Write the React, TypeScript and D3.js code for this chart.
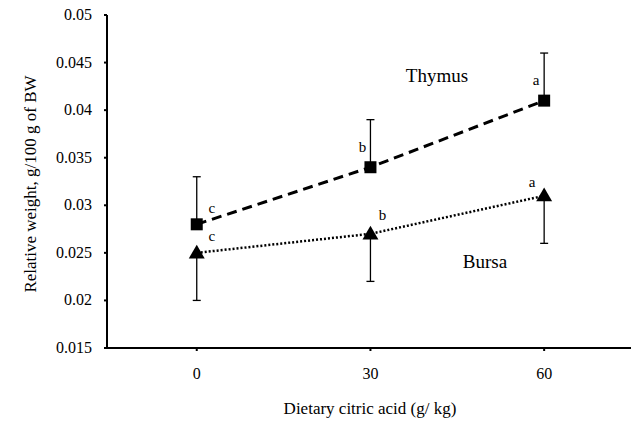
import React from 'react';
import * as d3 from 'd3';

const doses = [0, 30, 60];
const thymus = [0.028, 0.034, 0.041];
const thymusErr = [0.005, 0.005, 0.005];
const thymusLetters = ['c', 'b', 'a'];
const bursa = [0.025, 0.027, 0.031];
const bursaErr = [0.005, 0.005, 0.005];
const bursaLetters = ['c', 'b', 'a'];
const yTicks = [0.015, 0.02, 0.025, 0.03, 0.035, 0.04, 0.045, 0.05];

const W = 632;
const H = 422;
const serif = { fontFamily: 'Liberation Serif' };

export default function App() {
  const x = d3.scaleLinear().domain([-15.5, 75]).range([107, 631]);
  const y = d3.scaleLinear().domain([0.015, 0.05]).range([348, 15]);

  const line = d3.line<number>()
    .x((d, i) => x(doses[i]))
    .y((d) => y(d));

  const tri = d3.symbol().type(d3.symbolTriangle).size(110)();

  // letter offsets relative to the marker (dx, dy)
  const tOff = [[15, -11], [-8, -15], [-8, -16]];
  const bOff = [[15, -12], [12, -14], [-12, -9]];

  return (
    <svg width={W} height={H} style={{ position: 'absolute', left: 0, top: 0, background: '#fff', fontFamily: 'Liberation Serif' }}>
      {/* series lines */}
      <path d={line(thymus) || ''} fill="none" stroke="#000" strokeWidth={3} strokeDasharray="10,6" />
      <path d={line(bursa) || ''} fill="none" stroke="#000" strokeWidth={2.5} strokeDasharray="2,2" />

      {/* error bars */}
      {thymus.map((v, i) => (
        <g key={'te' + i} stroke="#000" strokeWidth={1.3}>
          <line x1={x(doses[i])} x2={x(doses[i])} y1={y(v)} y2={y(v + thymusErr[i])} />
          <line x1={x(doses[i]) - 4} x2={x(doses[i]) + 4} y1={y(v + thymusErr[i])} y2={y(v + thymusErr[i])} />
        </g>
      ))}
      {bursa.map((v, i) => (
        <g key={'be' + i} stroke="#000" strokeWidth={1.3}>
          <line x1={x(doses[i])} x2={x(doses[i])} y1={y(v)} y2={y(v - bursaErr[i])} />
          <line x1={x(doses[i]) - 4} x2={x(doses[i]) + 4} y1={y(v - bursaErr[i])} y2={y(v - bursaErr[i])} />
        </g>
      ))}

      {/* markers */}
      {thymus.map((v, i) => (
        <rect key={'tm' + i} x={x(doses[i]) - 6} y={y(v) - 6} width={12} height={12} fill="#000" />
      ))}
      {bursa.map((v, i) => (
        <path key={'bm' + i} d={tri || ''} transform={`translate(${x(doses[i])},${y(v) + 1})`} fill="#000" />
      ))}

      {/* significance letters */}
      <g fontSize={15} fill="#000">
        {thymus.map((v, i) => (
          <text key={'tl' + i} style={serif} x={x(doses[i]) + tOff[i][0]} y={y(v) + tOff[i][1]} textAnchor="middle">
            {thymusLetters[i]}
          </text>
        ))}
        {bursa.map((v, i) => (
          <text key={'bl' + i} style={serif} x={x(doses[i]) + bOff[i][0]} y={y(v) + bOff[i][1]} textAnchor="middle">
            {bursaLetters[i]}
          </text>
        ))}
      </g>

      {/* series labels */}
      <text x={437} y={82} style={serif} fontSize={19} textAnchor="middle">Thymus</text>
      <text x={485} y={268} style={serif} fontSize={19} textAnchor="middle">Bursa</text>

      {/* axes */}
      <line x1={x.range()[0]} x2={x.range()[0]} y1={y.range()[1]} y2={y.range()[0]} stroke="#000" strokeWidth={2} />
      <line x1={x.range()[0]} x2={x.range()[1]} y1={y.range()[0]} y2={y.range()[0]} stroke="#000" strokeWidth={2} />
      {yTicks.map((t) => (
        <g key={'yt' + t}>
          <line x1={x.range()[0] - 3} x2={x.range()[0]} y1={y(t)} y2={y(t)} stroke="#000" strokeWidth={2} />
          <text x={92} y={y(t) + 5} textAnchor="end" style={serif} fontSize={16}>{t}</text>
        </g>
      ))}
      {doses.map((d) => (
        <g key={'xt' + d}>
          <line x1={x(d)} x2={x(d)} y1={y.range()[0]} y2={y.range()[0] + 3} stroke="#000" strokeWidth={2} />
          <text x={x(d)} y={379} textAnchor="middle" style={serif} fontSize={16}>{d}</text>
        </g>
      ))}

      <text x={370} y={414} textAnchor="middle" style={serif} fontSize={17}>Dietary citric acid (g/ kg)</text>
      <text transform={`translate(36,184) rotate(-90)`} textAnchor="middle" style={serif} fontSize={17}>
        Relative weight, g/100 g of BW
      </text>
    </svg>
  );
}
